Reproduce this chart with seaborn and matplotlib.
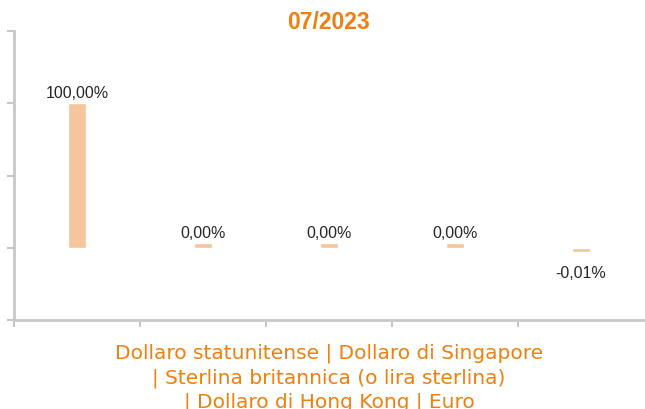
import numpy as np
import pandas as pd
import matplotlib
matplotlib.use("Agg")
import matplotlib.pyplot as plt
import seaborn as sns

title = "07/2023"
currencies = ["Dollaro statunitense", "Dollaro di Singapore",
              "Sterlina britannica (o lira sterlina)", "Dollaro di Hong Kong", "Euro"]
values = [100.00, 0.00, 0.00, 0.00, -0.01]
value_labels = ["100,00%", "0,00%", "0,00%", "0,00%", "-0,01%"]

orange = "#F07F0E"
bar_color = "#F5C59B"
grey = "#C8C8C8"

# tiny values still get a visible stub, like the original chart
min_h = 3.0
shown = [np.sign(v) * max(abs(v), min_h) if v != 0 else min_h for v in values]
df = pd.DataFrame({"currency": currencies, "value": shown})

sns.set_style("white")
fig = plt.figure(figsize=(6.45, 4.10), dpi=100)
ax = fig.add_axes([14 / 645, 1 - 321 / 410, 630 / 645, 289 / 410])

sns.barplot(data=df, x="currency", y="value", color=bar_color, width=0.135,
            saturation=1, ax=ax)

for i, (v, lab) in enumerate(zip(shown, value_labels)):
    if v >= 0:
        ax.annotate(lab, (i, v), xytext=(0, 2.5), textcoords="offset points",
                    ha="center", va="bottom", fontsize=11.5, family="Liberation Sans")
    else:
        ax.annotate(lab, (i, v), xytext=(0, -9), textcoords="offset points",
                    ha="center", va="top", fontsize=11.5, family="Liberation Sans")

ax.set_xlim(-0.5, len(currencies) - 0.5)
ax.set_ylim(-50, 150)
ax.set_yticks([-50, 0, 50, 100, 150])
ax.set_yticklabels([])
ax.set_xticks(np.arange(len(currencies)) - 0.5)
ax.set_xticklabels([])
ax.tick_params(axis="both", length=5, width=1.5, color=grey, direction="out",
               left=True, bottom=True)
for s in ["top", "right"]:
    ax.spines[s].set_visible(False)
for s in ["left", "bottom"]:
    ax.spines[s].set_color(grey)
    ax.spines[s].set_linewidth(2)

ax.set_ylabel("")
ax.set_xlabel("Dollaro statunitense | Dollaro di Singapore\n| Sterlina britannica (o lira sterlina)\n| Dollaro di Hong Kong | Euro",
              color=orange, fontsize=14.5, family="DejaVu Sans", labelpad=8,
              linespacing=1.32)
ax.set_title(title, color=orange, fontsize=16.5, fontweight="bold",
             family="Liberation Sans", pad=2)

fig.savefig("out.png", dpi=100)
